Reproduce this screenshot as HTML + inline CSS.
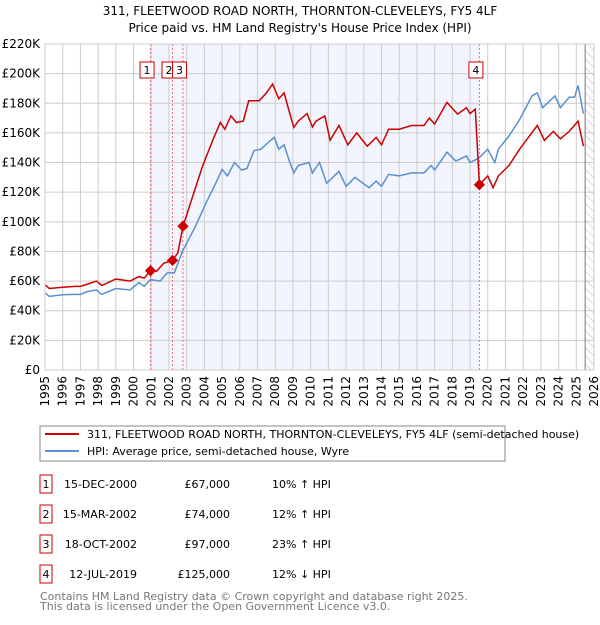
<!DOCTYPE html>
<html><head><meta charset="utf-8"><style>
body{margin:0;background:#fff;font-family:"Liberation Sans","DejaVu Sans",sans-serif;}
svg text{font-family:"DejaVu Sans","Liberation Sans",sans-serif;}
</style></head><body>
<svg id="c" width="600" height="620" xmlns="http://www.w3.org/2000/svg">
<defs><pattern id="hatch" width="6" height="6" patternUnits="userSpaceOnUse" patternTransform="rotate(-45)"><line x1="0" y1="0" x2="0" y2="6" stroke="#bbb" stroke-width="1"/></pattern></defs>
<text x="300" y="15" text-anchor="middle" font-size="12">311, FLEETWOOD ROAD NORTH, THORNTON-CLEVELEYS, FY5 4LF</text>
<text x="300" y="32" text-anchor="middle" font-size="12">Price paid vs. HM Land Registry's House Price Index (HPI)</text>
<g id="plot"></g>
<rect x="40" y="426" width="465" height="35" fill="#fff" stroke="#888"/>
<line x1="45" y1="434" x2="79" y2="434" stroke="#cc0000" stroke-width="2"/>
<text x="87" y="438" font-size="11">311, FLEETWOOD ROAD NORTH, THORNTON-CLEVELEYS, FY5 4LF (semi-detached house)</text>
<line x1="45" y1="451" x2="79" y2="451" stroke="#5b8fd0" stroke-width="2"/>
<text x="87" y="455" font-size="11">HPI: Average price, semi-detached house, Wyre</text>
<g id="tbl" font-size="11"></g>
<text x="40" y="600" font-size="11" fill="#777">Contains HM Land Registry data © Crown copyright and database right 2025.</text>
<text x="40" y="610" font-size="11" fill="#777">This data is licensed under the Open Government Licence v3.0.</text>
</svg>
<script>
const hpiYears=[1995,1995.25,1996,1996.7,1997,1997.4,1997.9,1998.2,1999,1999.8,2000.3,2000.6,2000.95,2001.5,2001.9,2002.3,2002.75,2003.5,2004.1,2004.6,2005,2005.3,2005.7,2006.1,2006.4,2006.8,2007.2,2007.6,2007.95,2008.2,2008.5,2008.8,2009.05,2009.3,2009.9,2010.1,2010.5,2010.9,2011.6,2012,2012.5,2013.3,2013.7,2014,2014.4,2015,2015.7,2016.4,2016.8,2017,2017.7,2018.2,2018.8,2019,2019.5,2020,2020.4,2020.6,2021.2,2021.8,2022.5,2022.8,2023.1,2023.8,2024.1,2024.6,2024.9,2025.1,2025.4];
const hpiVals=[52,49.7,50.8,51,51,53,54,51,55,54,59,56.4,61,60,65.5,65.5,80,97,113,125,135.4,131,140,135,136,148,149,153.5,157,149,152,141,133,138,140,133,140,126,134,124,130,123,127.5,124,132,131,133,133,138,135,147,141,144.5,140,143,149,140,149,158,169,185,187,177,185,177,184,184,192,173];
const ppYears=[1995,1995.25,1996,1996.7,1997,1997.4,1997.9,1998.2,1999,1999.8,2000.3,2000.6,2000.96,2001.3,2001.7,2002.2,2002.5,2002.79,2003.2,2003.9,2004.5,2004.9,2005.15,2005.5,2005.8,2006.2,2006.5,2007.1,2007.5,2007.85,2008.2,2008.5,2008.8,2009.05,2009.3,2009.8,2010.1,2010.3,2010.8,2011.1,2011.6,2012.1,2012.6,2013.2,2013.7,2014,2014.4,2015,2015.7,2016.4,2016.7,2017,2017.7,2018.3,2018.8,2019,2019.3,2019.53,2020,2020.3,2020.6,2021.2,2021.8,2022.8,2023.2,2023.7,2024.1,2024.6,2025.1,2025.4];
const ppVals=[57.5,55,55.8,56.4,56.4,58,60,57,61.4,60,63,62,67,66.6,72,74,79,97,112,137.7,155.8,167,162.5,171.5,167,168,181.7,181.7,187,193,183,187,174,163.7,168,173,164,168,171.5,155,165,152,160,151,157,152,162.5,162.5,165,165,170,166,180.6,172.7,177,173,176,125,131,123,131,138,149,165,155,161,156,161,168,151];
const saleYears=[2000.96,2002.2,2002.79,2019.53];
const saleVals=[67,74,97,125];
const saleLabels=["1","2","3","4"];
const saleDates=["15-DEC-2000","15-MAR-2002","18-OCT-2002","12-JUL-2019"];
const salePrices=["£67,000","£74,000","£97,000","£125,000"];
const saleHpi=["10% ↑ HPI","12% ↑ HPI","23% ↑ HPI","12% ↓ HPI"];
const yTicks=[0,20,40,60,80,100,120,140,160,180,200,220];
const xTicks=[1995,1996,1997,1998,1999,2000,2001,2002,2003,2004,2005,2006,2007,2008,2009,2010,2011,2012,2013,2014,2015,2016,2017,2018,2019,2020,2021,2022,2023,2024,2025,2026];
const X0=45,X1=594,Y0=370,Y1=44;
const xs=y=>X0+(y-1995)/31*(X1-X0);
const ys=v=>Y0-v/220*(Y0-Y1);
const NS="http://www.w3.org/2000/svg";
const g=document.getElementById('plot');
function mk(t,a,p){const e=document.createElementNS(NS,t);for(const k in a)e.setAttribute(k,a[k]);(p||g).appendChild(e);return e;}
let r=mk('rect',{x:xs(saleYears[0]),y:Y1,width:xs(saleYears[3])-xs(saleYears[0]),height:Y0-Y1,fill:'#f2f5fd'});


r=mk('rect',{x:xs(2025.5),y:Y1,width:X1-xs(2025.5),height:Y0-Y1,fill:'url(#hatch)'});


yTicks.forEach(v=>{const l=mk('line',{x1:X0,x2:X1,y1:ys(v),y2:ys(v),stroke:'#ccc'});


const t=mk('text',{x:40,y:ys(v)+4,'text-anchor':'end','font-size':12});t.textContent=v==0?'£0':'£'+v+'K';

});
xTicks.forEach(y=>{const l=mk('line',{x1:xs(y),x2:xs(y),y1:Y1,y2:Y0,stroke:'#ccc'});


const t=mk('text',{x:0,y:0,'text-anchor':'end','font-size':12,transform:`translate(${xs(y)+4},${Y0+6}) rotate(-90)`});t.textContent=y;

});
let b=mk('line',{x1:xs(2025.5),x2:xs(2025.5),y1:Y1,y2:Y0,stroke:'#777'});


saleYears.forEach((y,i)=>{const l=mk('line',{x1:xs(y),x2:xs(y),y1:Y1,y2:Y0,stroke:'#f07070','stroke-dasharray':'2,2'});


const bx=xs(y)-10.5;
const rr=mk('rect',{x:bx,y:62,width:14,height:16,fill:'#fff',stroke:'#cc0000'});


const t=mk('text',{x:bx+7,y:74,'text-anchor':'middle','font-size':11});t.textContent=saleLabels[i];

});
let p=mk('path',{d:hpiYears.map((y,i)=>(i?'L':'M')+xs(y).toFixed(1)+','+ys(hpiVals[i]).toFixed(1)).join(''),fill:'none',stroke:'#5b8fd0','stroke-width':1.5});


p=mk('path',{d:ppYears.map((y,i)=>(i?'L':'M')+xs(y).toFixed(1)+','+ys(ppVals[i]).toFixed(1)).join(''),fill:'none',stroke:'#cc0000','stroke-width':1.5});


saleYears.forEach((y,i)=>{const c=mk('rect',{x:xs(y)-4,y:ys(saleVals[i])-4,width:8,height:8,fill:'#cc0000',transform:`rotate(45 ${xs(y)} ${ys(saleVals[i])})`});

});
let f=mk('rect',{x:X0,y:Y1,width:X1-X0,height:Y0-Y1,fill:'none',stroke:'#ccc'});


const tb=document.getElementById('tbl');
saleLabels.forEach((s,i)=>{const cy=484+i*30;
const rr=mk('rect',{x:40,y:cy-9,width:12,height:18,fill:'#fff',stroke:'#cc0000'},tb);


const a=mk('text',{x:46,y:cy+4,'text-anchor':'middle'},tb);a.textContent=s;


const d=mk('text',{x:137,y:cy+4,'text-anchor':'end'},tb);d.textContent=saleDates[i];


const pr=mk('text',{x:230,y:cy+4,'text-anchor':'end'},tb);pr.textContent=salePrices[i];


const h=mk('text',{x:272,y:cy+4},tb);h.textContent=saleHpi[i];

});
</script>
</body></html>
